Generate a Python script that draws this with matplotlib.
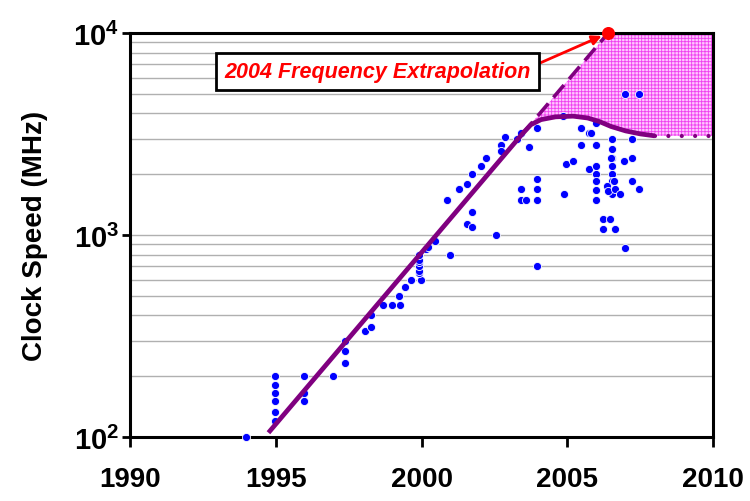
import matplotlib
matplotlib.use("Agg")

import matplotlib.pyplot as plt
import numpy as np

plt.rcParams['font.family'] = ['Liberation Sans', 'DejaVu Sans']
plt.rcParams['mathtext.fontset'] = 'custom'
plt.rcParams['mathtext.rm'] = 'Liberation Sans:bold'
plt.rcParams['mathtext.bf'] = 'Liberation Sans:bold'
plt.rcParams['hatch.linewidth'] = 0.6
plt.rcParams['hatch.color'] = '#f040f0'

# processor clock speeds (year, MHz)
years = [
    1993.97,
    1994.96, 1994.96, 1994.96, 1994.96, 1994.96, 1994.96,
    1995.98, 1995.98, 1995.98,
    1996.97,
    1997.38, 1997.38, 1997.38,
    1998.06, 1998.27, 1998.27,
    1998.68, 1998.99, 1999.26, 1999.22, 1999.43, 1999.64,
    1999.97, 1999.9, 1999.9, 1999.9, 1999.9, 1999.9, 1999.9,
    2000.17, 2000.22, 2000.48, 2000.98, 2000.89,
    2001.3, 2001.55, 2001.55, 2001.72, 2001.72, 2001.72,
    2002.04, 2002.2, 2002.55, 2002.71, 2002.71, 2002.88,
    2003.29, 2003.43, 2003.43, 2003.43, 2003.6, 2003.7,
    2003.97, 2003.97, 2003.97, 2003.97, 2003.97,
    2004.86, 2004.89, 2004.96, 2005.2,
    2005.47, 2005.47, 2005.73, 2005.73, 2005.82,
    2005.97, 2005.97, 2005.97, 2005.97, 2005.97, 2005.97, 2005.97,
    2006.21, 2006.21, 2006.47,
    2006.55, 2006.55, 2006.55, 2006.5, 2006.55, 2006.55, 2006.55, 2006.6, 2006.55,
    2006.37, 2006.41, 2006.64, 2006.64, 2006.81,
    2006.93, 2006.97, 2006.98,
    2007.22, 2007.22, 2007.22,
    2007.46, 2007.46,
]
speeds = [
    100,
    200, 180, 166, 150, 133, 120,
    200, 166, 150,
    200,
    300, 266, 233,
    333, 350, 400,
    450, 450, 450, 500, 550, 600,
    600, 650, 667, 700, 733, 750, 800,
    850, 870, 933, 800, 1500,
    1700, 1800, 1133, 2000, 1300, 1100,
    2200, 2400, 1000, 2800, 2600, 3060,
    3000, 3200, 1700, 1500, 1500, 2720,
    3400, 1900, 1700, 1500, 700,
    3870, 1600, 2260, 2330,
    3400, 2800, 3200, 2130, 3200,
    3600, 2800, 2200, 2000, 1860, 1680, 1500,
    1200, 1066, 1200,
    3000, 2660, 2400, 2400, 2200, 2000, 1860, 1860, 1600,
    1740, 1660, 1066, 1690, 1600,
    2330, 860, 5000,
    3000, 2400, 1860,
    5000, 1700,
]

# 2004 trend line (log-linear)
trend_years = [1994.75, 2006.4]
trend_speeds = [105, 10000]
bend_year = 2003.45

# actual frequency curve after the bend
curve_years = [2003.45, 2003.75, 2004.1, 2004.6, 2005.2, 2005.7, 2006.1, 2006.5, 2007.0, 2007.5, 2008.0]
curve_speeds = [3160, 3520, 3730, 3850, 3880, 3800, 3650, 3450, 3280, 3170, 3100]
flat_years = [2008.0, 2010.0]
flat_speeds = [3100, 3100]

label_text = "2004 Frequency Extrapolation"


def trend(y):
    x0, x1 = trend_years
    l0, l1 = np.log10(trend_speeds)
    return 10 ** (l0 + (l1 - l0) * (np.asarray(y) - x0) / (x1 - x0))


fig = plt.figure(figsize=(7.5, 5.02), dpi=100)
ax = fig.add_axes([0.1733, 0.1275, 0.7774, 0.8045])
ax.set_yscale("log")
ax.set_xlim(1990, 2010)
ax.set_ylim(100, 10000)

# shaded gap between extrapolation and reality
poly_x = [bend_year, trend_years[1], 2010, 2010] + curve_years[::-1]
poly_y = [float(trend(bend_year)), 10000, 10000, flat_speeds[1]] + curve_speeds[::-1]
ax.fill(poly_x, poly_y, facecolor="#ffc6ff", edgecolor="#f040f0", hatch="+++++",
        linewidth=0, zorder=2)

ax.scatter(years, speeds, s=34, color="#0000ff", edgecolor="white", linewidth=0.6,
           zorder=3, clip_on=False)

purple = "#800080"
solid_x = [trend_years[0]] + curve_years
solid_y = [trend_speeds[0]] + curve_speeds
ax.plot(solid_x, solid_y, color=purple, lw=3.4, solid_joinstyle="round",
        solid_capstyle="butt", zorder=4)
dash_x = np.array([bend_year, trend_years[1]])
ax.plot(dash_x, trend(dash_x), color=purple, lw=2.6, dashes=(4.5, 2.2), zorder=4)
ax.plot(flat_years, flat_speeds, color=purple, lw=3, dashes=(0.01, 3.2),
        dash_capstyle="round", zorder=4)

ax.scatter([trend_years[1]], [trend_speeds[1]], s=70, color="#ff0000", zorder=6,
           clip_on=False)

ax.annotate(label_text, xy=(trend_years[1], trend_speeds[1]), xytext=(1998.5, 6450),
            ha="center", va="center", color="#ff0000", fontsize=15.5,
            fontweight="bold", fontstyle="italic",
            bbox=dict(boxstyle="square,pad=0.38", fc="white", ec="black", lw=2),
            arrowprops=dict(arrowstyle="-|>", color="#ff0000", lw=2,
                            mutation_scale=14, shrinkA=0, shrinkB=5,
                            relpos=(1.0, 0.72)),
            zorder=7)

ax.grid(True, which="both", axis="y", color="#b0b0b0", lw=1, zorder=1)
ax.set_axisbelow(True)

ax.set_xticks([1990, 1995, 2000, 2005, 2010])
ax.set_xticklabels(["1990", "1995", "2000", "2005", "2010"])
ax.set_yticks([100, 1000, 10000])
ax.set_yticklabels([r"$10^2$", r"$10^3$", r"$10^4$"])
ax.tick_params(axis="x", which="major", length=7, width=2, labelsize=20, pad=14)
ax.tick_params(axis="y", which="major", length=6, width=2, labelsize=21, pad=2)
ax.tick_params(axis="y", which="minor", length=0)
for lab in ax.get_xticklabels():
    lab.set_fontweight("bold")

for sp in ax.spines.values():
    sp.set_linewidth(2.2)

ax.set_ylabel("Clock Speed (MHz)", fontsize=20, fontweight="bold", labelpad=18)

fig.savefig("out.png", dpi=100)
